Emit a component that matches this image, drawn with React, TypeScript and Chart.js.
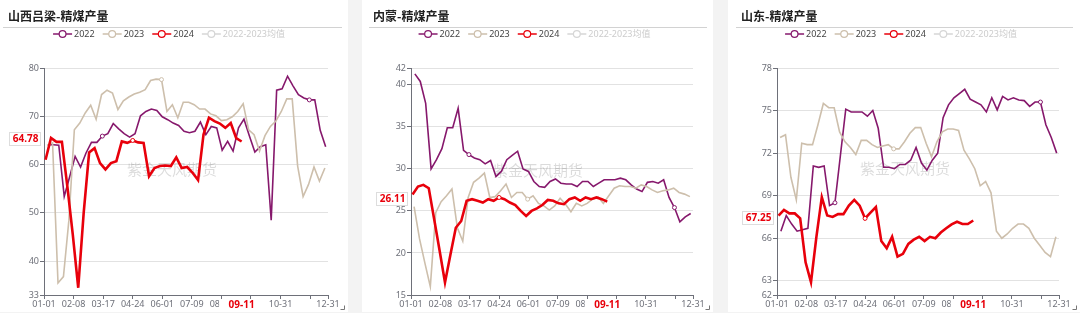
import React, { useEffect, useRef } from 'react';
import { Chart, registerables } from 'chart.js';

Chart.register(...registerables);

// ---------- shared axis data ----------
const TICK_DAYS = [0, 38, 76, 114, 152, 190, 228, 266, 304, 342, 365];
const TICK_LABELS = ['01-01', '02-08', '03-17', '04-24', '06-01', '07-09', '08-16', '09-23', '10-31', '12-08', '12-31'];
const HIDDEN_TICK_LABELS = ['12-08'];
const SERIES_NAMES = ['2022', '2023', '2024', '2022-2023均值'];
const START_DAY_2022 = 5;
const START_DAY_2023 = 4;
const START_DAY_2024 = 2;
const WEEK = 7;
const POINTER_LABEL = '09-11';
const POINTER_DAY = 254;
const MARKS_2022 = [10, 48];
const MARKS_2023 = [21];
const MARKS_2024 = [16];
const WATERMARK = '紫金天风期货';

// ---------- 山西吕梁 ----------
const LVLIANG_TITLE = '山西吕梁-精煤产量';
const LVLIANG_2022 = [64.1, 64.1, 64.0, 53.4, 57.5, 61.7, 59.5, 62.4, 64.6, 64.6, 65.9, 66.4, 68.5, 67.4, 66.4, 65.7, 66.4, 70.1, 71.0, 71.5, 71.2, 69.9, 69.3, 68.6, 68.1, 66.9, 66.6, 66.9, 68.8, 66.2, 67.9, 67.6, 63.0, 64.8, 62.8, 67.6, 69.4, 65.9, 62.6, 63.7, 64.1, 48.5, 75.4, 75.7, 78.3, 76.3, 74.5, 73.8, 73.4, 73.4, 67.1, 63.7];
const LVLIANG_2023 = [64.0, 64.5, 35.5, 36.8, 48.5, 67.2, 68.6, 70.7, 72.3, 69.4, 74.5, 75.4, 74.8, 71.4, 73.2, 74.0, 74.6, 75.0, 75.5, 77.4, 77.7, 77.6, 71.0, 72.4, 69.7, 72.9, 72.9, 72.4, 71.5, 71.5, 70.5, 70.1, 69.1, 69.3, 69.9, 71.0, 72.6, 67.2, 66.2, 62.8, 66.0, 67.9, 69.0, 71.0, 73.6, 73.6, 59.7, 53.4, 55.9, 59.5, 56.6, 59.3];
const LVLIANG_2024 = [61.0, 65.5, 64.7, 64.7, 55.5, 45.5, 34.5, 50.0, 62.5, 63.4, 60.3, 59.0, 60.3, 60.7, 64.8, 64.5, 65.0, 64.6, 64.5, 57.6, 59.3, 59.7, 59.8, 59.7, 61.5, 59.3, 59.5, 58.3, 56.8, 66.2, 69.7, 69.0, 68.5, 67.6, 68.6, 65.5, 64.78];
const LVLIANG_Y_TICKS = [33, 40, 50, 60, 70, 80];
const LVLIANG_POINTER = 64.78;

// ---------- 内蒙 ----------
const NEIMENG_TITLE = '内蒙-精煤产量';
const NEIMENG_2022 = [41.3, 40.4, 37.8, 30.0, 31.1, 32.4, 34.9, 34.9, 37.2, 32.2, 31.7, 31.3, 31.1, 30.6, 31.0, 29.1, 29.7, 31.1, 31.6, 32.1, 30.0, 29.7, 28.5, 27.9, 27.8, 28.5, 28.8, 28.3, 28.2, 28.2, 27.9, 28.5, 28.5, 27.9, 28.3, 28.7, 28.7, 28.7, 28.9, 28.7, 28.1, 27.6, 27.3, 28.4, 28.5, 28.3, 28.7, 26.6, 25.4, 23.7, 24.3, 24.7];
const NEIMENG_2023 = [25.5, 21.7, 18.8, 16.0, 24.8, 26.1, 26.8, 27.6, 23.0, 21.4, 26.6, 28.4, 28.9, 29.5, 26.6, 26.7, 27.4, 28.2, 26.6, 27.2, 27.2, 26.4, 26.8, 25.9, 25.6, 25.1, 25.6, 26.5, 25.8, 24.9, 25.9, 25.6, 25.9, 26.4, 26.7, 25.9, 26.8, 27.7, 28.0, 27.9, 27.9, 27.7, 28.1, 27.9, 27.5, 27.2, 27.4, 27.5, 27.7, 27.2, 27.0, 26.7];
const NEIMENG_2024 = [26.95, 27.9, 28.1, 27.7, 24.0, 20.3, 16.5, 19.8, 23.0, 23.8, 26.2, 26.4, 26.2, 26.0, 26.4, 26.2, 26.6, 26.4, 26.0, 25.7, 25.0, 24.4, 25.0, 25.3, 25.7, 26.3, 26.2, 25.9, 25.8, 26.4, 26.6, 26.2, 26.6, 26.4, 26.6, 26.4, 26.11];
const NEIMENG_Y_TICKS = [15, 20, 25, 30, 35, 40, 42];
const NEIMENG_POINTER = 26.11;

// ---------- 山东 ----------
const SHANDONG_TITLE = '山东-精煤产量';
const SHANDONG_2022 = [66.5, 67.6, 67.0, 66.5, 66.6, 66.7, 71.1, 71.0, 71.1, 68.3, 68.5, 71.8, 75.1, 74.9, 74.9, 74.9, 74.6, 75.0, 73.75, 71.0, 71.0, 70.9, 71.2, 71.2, 71.5, 72.4, 71.3, 70.8, 71.5, 72.0, 74.5, 75.4, 75.9, 76.2, 76.5, 75.8, 75.6, 75.4, 74.9, 75.9, 75.05, 76.0, 75.75, 75.9, 75.75, 75.7, 75.3, 75.6, 75.6, 74.0, 73.1, 72.0];
const SHANDONG_2023 = [73.1, 73.3, 70.3, 68.7, 72.7, 72.6, 72.6, 74.0, 75.5, 75.2, 75.2, 73.5, 72.8, 72.4, 71.9, 72.9, 72.9, 72.6, 72.4, 72.5, 72.6, 72.3, 72.3, 72.8, 73.4, 73.8, 73.8, 72.7, 71.75, 72.8, 73.5, 73.7, 73.7, 73.6, 72.2, 71.6, 70.9, 69.7, 70.0, 69.2, 66.5, 66.0, 66.3, 66.7, 67.0, 67.0, 66.7, 66.0, 65.5, 65.0, 64.7, 66.1];
const SHANDONG_2024 = [67.6, 68.0, 67.75, 67.75, 67.4, 64.3, 62.9, 66.1, 68.9, 67.6, 67.5, 67.7, 67.7, 68.3, 68.7, 68.3, 67.4, 67.8, 68.2, 65.8, 65.3, 66.1, 64.7, 64.9, 65.6, 65.9, 66.1, 65.8, 66.1, 66.0, 66.4, 66.7, 66.98, 67.16, 67.0, 67.0, 67.25];
const SHANDONG_Y_TICKS = [62, 63, 66, 69, 72, 75, 78];
const SHANDONG_POINTER = 67.25;

// ---------- styles ----------
const C2022 = '#86186c';
const C2023 = '#cdbfac';
const C2024 = '#e8000b';
const CAVG = '#d6d6d6';
const LEGEND_COLORS = [C2022, C2023, C2024, CAVG];
const AXIS = '#6E7079';
const FONT = '"Noto Sans", "Noto Sans CJK SC", sans-serif';
const CJK = '"Noto Sans CJK SC", "Noto Sans", sans-serif';
const H = 312;

type PanelCfg = {
  title: string;
  s2022: number[];
  s2023: number[];
  s2024: number[];
  yTicks: number[];
  pointer: number;
  left: number;
  width: number;
  plotLeft: number;
  plotRight: number;
  titleX: number;
  lineX0: number;
  lineX1: number;
  legendCX: number;
  wmX: number;
  wmY: number;
};

const PANELS: PanelCfg[] = [
  { title: LVLIANG_TITLE, s2022: LVLIANG_2022, s2023: LVLIANG_2023, s2024: LVLIANG_2024, yTicks: LVLIANG_Y_TICKS, pointer: LVLIANG_POINTER,
    left: 0, width: 348, plotLeft: 44, plotRight: 328, titleX: 8, lineX0: 3, lineX1: 342, legendCX: 169, wmX: 172, wmY: 169 },
  { title: NEIMENG_TITLE, s2022: NEIMENG_2022, s2023: NEIMENG_2023, s2024: NEIMENG_2024, yTicks: NEIMENG_Y_TICKS, pointer: NEIMENG_POINTER,
    left: 362, width: 351, plotLeft: 49, plotRight: 331, titleX: 11, lineX0: 7, lineX1: 345, legendCX: 172.5, wmX: 176, wmY: 170 },
  { title: SHANDONG_TITLE, s2022: SHANDONG_2022, s2023: SHANDONG_2023, s2024: SHANDONG_2024, yTicks: SHANDONG_Y_TICKS, pointer: SHANDONG_POINTER,
    left: 728, width: 352, plotLeft: 49, plotRight: 331, titleX: 13, lineX0: 8, lineX1: 345, legendCX: 173, wmX: 177, wmY: 168 },
];

function Panel({ cfg }: { cfg: PanelCfg }) {
  const ref = useRef<HTMLCanvasElement>(null);

  useEffect(() => {
    const canvas = ref.current;
    if (!canvas) return;
    const toPoints = (vals: number[], start: number) => vals.map((v, i) => ({ x: start + WEEK * i, y: v }));
    const radius = (marks: number[]) => (c: any) => (marks.includes(c.dataIndex) ? 2 : 0);

    const decor = {
      id: 'decor',
      beforeDatasetsDraw(chart: any) {
        const ctx = chart.ctx;
        ctx.save();
        ctx.font = `15px ${CJK}`;
        ctx.fillStyle = 'rgba(0,0,0,0.14)';
        ctx.textAlign = 'center';
        ctx.textBaseline = 'middle';
        ctx.fillText(WATERMARK, cfg.wmX, cfg.wmY);
        ctx.restore();
      },
      afterDraw(chart: any) {
        const ctx = chart.ctx;
        const area = chart.chartArea;
        ctx.save();
        // title
        ctx.font = `bold 12px ${CJK}`;
        ctx.fillStyle = '#222';
        ctx.textAlign = 'left';
        ctx.textBaseline = 'middle';
        ctx.fillText(cfg.title, cfg.titleX, 16);
        // separator
        ctx.strokeStyle = '#d2d2d2';
        ctx.lineWidth = 1;
        ctx.beginPath();
        ctx.moveTo(cfg.lineX0, 27.5);
        ctx.lineTo(cfg.lineX1, 27.5);
        ctx.stroke();
        // legend
        ctx.font = `9px ${FONT}`;
        const iconW = 19;
        const gap = 8;
        const items = SERIES_NAMES.map((n, i) => ({ n, c: LEGEND_COLORS[i], w: iconW + 2 + ctx.measureText(n).width, off: i === 3 }));
        const total = items.reduce((s, it) => s + it.w, 0) + gap * (items.length - 1);
        let x = cfg.legendCX - total / 2;
        const ly = 34;
        items.forEach((it) => {
          ctx.strokeStyle = it.c;
          ctx.lineWidth = 1.5;
          ctx.beginPath();
          ctx.moveTo(x, ly);
          ctx.lineTo(x + iconW, ly);
          ctx.stroke();
          ctx.beginPath();
          ctx.arc(x + iconW / 2, ly, 3.4, 0, Math.PI * 2);
          ctx.fillStyle = '#fff';
          ctx.fill();
          ctx.lineWidth = 1.2;
          ctx.stroke();
          ctx.fillStyle = it.off ? '#cccccc' : '#444';
          ctx.textAlign = 'left';
          ctx.textBaseline = 'middle';
          ctx.fillText(it.n, x + iconW + 2, ly);
          x += it.w + gap;
        });
        // y pointer label
        const py = chart.scales.y.getPixelForValue(cfg.pointer) - 3;
        ctx.font = `bold 10px ${FONT}`;
        const ptxt = cfg.pointer.toFixed(2);
        const tw = ctx.measureText(ptxt).width;
        const bRight = area.left - 4.5;
        const bw = tw + 5;
        ctx.fillStyle = '#fff';
        ctx.fillRect(bRight - bw, py - 6.5, bw, 13);
        ctx.strokeStyle = '#dddddd';
        ctx.lineWidth = 1;
        ctx.strokeRect(Math.round(bRight - bw) + 0.5, Math.round(py - 6.5) + 0.5, Math.round(bw), 13);
        ctx.fillStyle = C2024;
        ctx.textAlign = 'right';
        ctx.textBaseline = 'middle';
        ctx.fillText(ptxt, bRight - 1, py + 0.5);
        // x pointer label
        const px = chart.scales.x.getPixelForValue(POINTER_DAY);
        ctx.fillStyle = '#fff';
        ctx.fillRect(px - 22.5, 299, 45, 12);
        ctx.fillStyle = C2024;
        ctx.textAlign = 'center';
        ctx.fillText(POINTER_LABEL, px, 305);
        // resize corner
        ctx.strokeStyle = '#777';
        ctx.lineWidth = 1;
        ctx.beginPath();
        ctx.moveTo(cfg.width - 7.5, 309.5);
        ctx.lineTo(cfg.width - 3.5, 309.5);
        ctx.lineTo(cfg.width - 3.5, 305.5);
        ctx.stroke();
        ctx.restore();
      },
    };

    const chart = new Chart(canvas, {
      type: 'line',
      data: {
        datasets: [
          { label: SERIES_NAMES[0], data: toPoints(cfg.s2022, START_DAY_2022), borderColor: C2022, borderWidth: 1.6,
            pointRadius: radius(MARKS_2022), pointBackgroundColor: '#fff', pointBorderColor: C2022, pointBorderWidth: 1, order: 3 },
          { label: SERIES_NAMES[1], data: toPoints(cfg.s2023, START_DAY_2023), borderColor: C2023, borderWidth: 1.6,
            pointRadius: radius(MARKS_2023), pointBackgroundColor: '#fff', pointBorderColor: C2023, pointBorderWidth: 1, order: 2 },
          { label: SERIES_NAMES[2], data: toPoints(cfg.s2024, START_DAY_2024), borderColor: C2024, borderWidth: 2.6,
            pointRadius: radius(MARKS_2024), pointBackgroundColor: '#fff', pointBorderColor: C2024, pointBorderWidth: 1, order: 1 },
        ],
      },
      options: {
        animation: false,
        responsive: false,
        devicePixelRatio: 1,
        events: [],
        layout: { padding: { left: 0, right: cfg.width - cfg.plotRight, top: 68, bottom: 0 } },
        elements: { line: { tension: 0 } },
        plugins: { legend: { display: false }, title: { display: false }, tooltip: { enabled: false } },
        scales: {
          x: {
            type: 'linear',
            min: TICK_DAYS[0],
            max: TICK_DAYS[TICK_DAYS.length - 1],
            afterBuildTicks: (scale: any) => {
              scale.ticks = TICK_DAYS.map((v) => ({ value: v }));
            },
            afterFit: (scale: any) => {
              scale.height = H - 295;
            },
            ticks: {
              autoSkip: false,
              maxRotation: 0,
              padding: 0,
              color: AXIS,
              font: { family: FONT, size: 9 },
              callback: (v: any) => {
                const i = TICK_DAYS.indexOf(Number(v));
                const lab = i >= 0 ? TICK_LABELS[i] : '';
                return HIDDEN_TICK_LABELS.includes(lab) ? '' : lab;
              },
            },
            grid: { drawOnChartArea: false, drawTicks: true, tickLength: 4, tickColor: AXIS },
            border: { display: true, color: AXIS, width: 1 },
          },
          y: {
            type: 'linear',
            min: cfg.yTicks[0],
            max: cfg.yTicks[cfg.yTicks.length - 1],
            afterBuildTicks: (scale: any) => {
              scale.ticks = cfg.yTicks.map((v) => ({ value: v }));
            },
            afterFit: (scale: any) => {
              scale.width = cfg.plotLeft;
            },
            ticks: { padding: 1, color: AXIS, font: { family: FONT, size: 9 } },
            grid: { color: '#e2e2e2', drawTicks: true, tickLength: 4, tickColor: AXIS },
            border: { display: true, color: AXIS, width: 1 },
          },
        },
      },
      plugins: [decor],
    } as any);

    return () => chart.destroy();
  }, [cfg]);

  return (
    <canvas
      ref={ref}
      width={cfg.width}
      height={H}
      style={{ position: 'absolute', left: cfg.left, top: 0, width: cfg.width, height: H, background: '#fff', display: 'block' }}
    />
  );
}

export default function App() {
  return (
    <div style={{ position: 'fixed', left: 0, top: 0, width: 1080, height: 313, background: '#f3f3f3', overflow: 'hidden' }}>
      {PANELS.map((p) => (
        <Panel key={p.title} cfg={p} />
      ))}
    </div>
  );
}
